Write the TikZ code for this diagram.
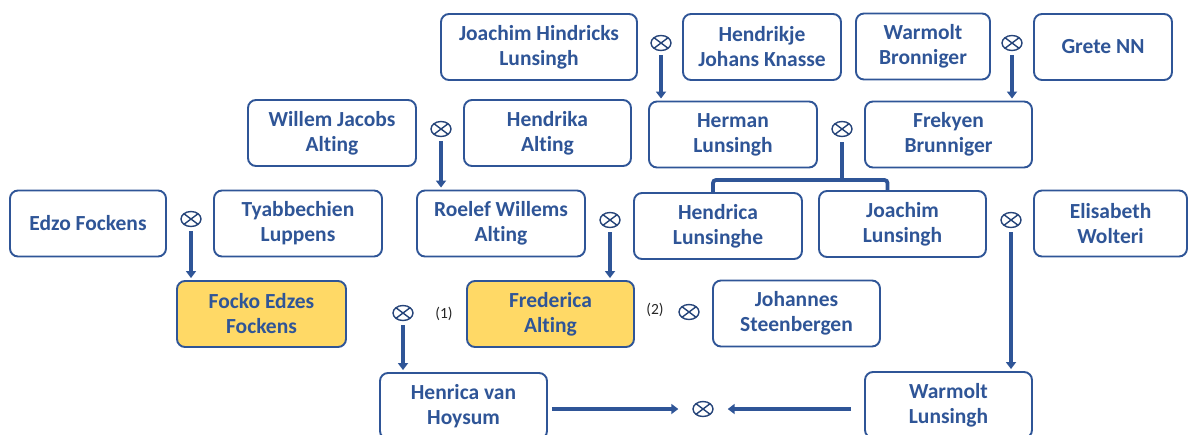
\documentclass[tikz,border=0pt]{standalone}
\usepackage{fontspec}
\setmainfont{Carlito}[Ligatures=NoCommon]
\usetikzlibrary{arrows.meta,shapes.geometric}
\definecolor{famblue}{RGB}{47,85,151}
\definecolor{famyellow}{RGB}{255,217,102}
\tikzset{
	person/.style={draw=famblue, line width=1.9pt, rounded corners=8pt, fill=white, text=famblue, align=center, minimum height=66pt, inner sep=2pt, font=\bfseries\fontsize{21.5}{25}\selectfont},
	focus/.style={person, fill=famyellow},
	wed/.style={ellipse, draw=famblue!80!black, line width=1.4pt, minimum width=20pt, minimum height=15pt, inner sep=0pt,
		path picture={\draw[famblue!80!black, line width=1.4pt] (path picture bounding box.north west) -- (path picture bounding box.south east) (path picture bounding box.north east) -- (path picture bounding box.south west);}},
	descent/.style={draw=famblue, line width=3.8pt, -{Triangle[width=10pt,length=7pt]}, shorten <=4pt, shorten >=2pt},
	fork/.style={draw=famblue, line width=3.8pt},
	marknum/.style={font=\fontsize{15.5}{17}\selectfont, text=black!85}
}

\begin{document}
\begin{tikzpicture}[x=1pt, y=-1pt]
			%%%%% START %%%%%
			\useasboundingbox (0, 0) rectangle (1190, 434);
			
			\node[person, minimum width=196pt] (joachimH) at (539, 47) {Joachim Hindricks\\Lunsingh};
			\node[wed] (m1) at (661, 43) {};
			\node[person, minimum width=158pt] (hendrikje) at (762, 47) {Hendrikje\\Johans Knasse};
			\node[person, minimum width=134pt] (warmoltB) at (923, 46.5) {Warmolt\\Bronniger};
			\node[wed] (m2) at (1012, 43) {};
			\node[person, minimum width=138pt] (grete) at (1103, 47) {Grete NN};
			
			\node[person, minimum width=168pt] (willem) at (332, 133) {Willem Jacobs\\Alting};
			\node[wed] (m3) at (441, 129) {};
			\node[person, minimum width=167pt] (hendrika) at (547.5, 133) {Hendrika\\Alting};
			\node[person, minimum width=168pt] (herman) at (733, 134.5) {Herman\\Lunsingh};
			\node[wed] (m4) at (842, 129) {};
			\node[person, minimum width=167pt] (frekyen) at (948.5, 134.5) {Frekyen\\Brunniger};
			
			\node[person, minimum width=156pt] (edzo) at (88, 223.5) {Edzo Fockens};
			\node[wed] (m5) at (191, 219) {};
			\node[person, minimum width=168pt] (tyabbechien) at (298, 223.5) {Tyabbechien\\Luppens};
			\node[person, minimum width=168pt] (roelef) at (501, 223.5) {Roelef Willems\\Alting};
			\node[wed] (m6) at (610, 220) {};
			\node[person, minimum width=168pt] (hendrica) at (718, 226) {Hendrica\\Lunsinghe};
			\node[person, minimum width=167pt] (joachimL) at (902.5, 224) {Joachim\\Lunsingh};
			\node[wed] (m7) at (1011, 220) {};
			\node[person, minimum width=153pt] (elisabeth) at (1110.5, 223.5) {Elisabeth\\Wolteri};
			
			\node[focus, minimum width=169pt] (focko) at (261.5, 314) {Focko Edzes\\Fockens};
			\node[wed] (m8) at (403, 313) {};
			\node[marknum] (n1) at (444, 314) {(1)};
			\node[focus, minimum width=167pt] (frederica) at (550.5, 314) {Frederica\\Alting};
			\node[marknum] (n2) at (655, 310) {(2)};
			\node[wed] (m9) at (689, 312) {};
			\node[person, minimum width=167pt] (johannes) at (796.5, 313.5) {Johannes\\Steenbergen};
			
			\node[person, minimum width=167pt] (henrica) at (463.5, 406) {Henrica van\\Hoysum};
			\node[wed] (m10) at (703, 409) {};
			\node[person, minimum width=167pt] (warmoltL) at (948.5, 405) {Warmolt\\Lunsingh};
			
			% children
			\draw[descent] (m1) -- (m1 |- herman.north);
			\draw[descent] (m2) -- (m2 |- frekyen.north);
			\draw[descent] (m3) -- (m3 |- roelef.north);
			\draw[descent] (m5) -- (m5 |- focko.north);
			\draw[descent] (m6) -- (m6 |- frederica.north);
			\draw[descent] (m7) -- (m7 |- warmoltL.north);
			\draw[descent] (m8) -- (m8 |- henrica.north);
			
			\coordinate (fork) at (842, 180);
			\draw[fork, shorten <=5pt] (m4) -- (fork);
			\draw[fork, rounded corners=3pt] ([xshift=-5pt]hendrica.north) |- (fork) -| ([xshift=-15pt]joachimL.north);
			
			\draw[descent, shorten >=14pt] (henrica.east |- m10) -- (m10);
			\draw[descent, shorten <=13pt, shorten >=14pt] (warmoltL.west |- m10) -- (m10);
			
			%%%%% END %%%%%
\end{tikzpicture}
\end{document}
